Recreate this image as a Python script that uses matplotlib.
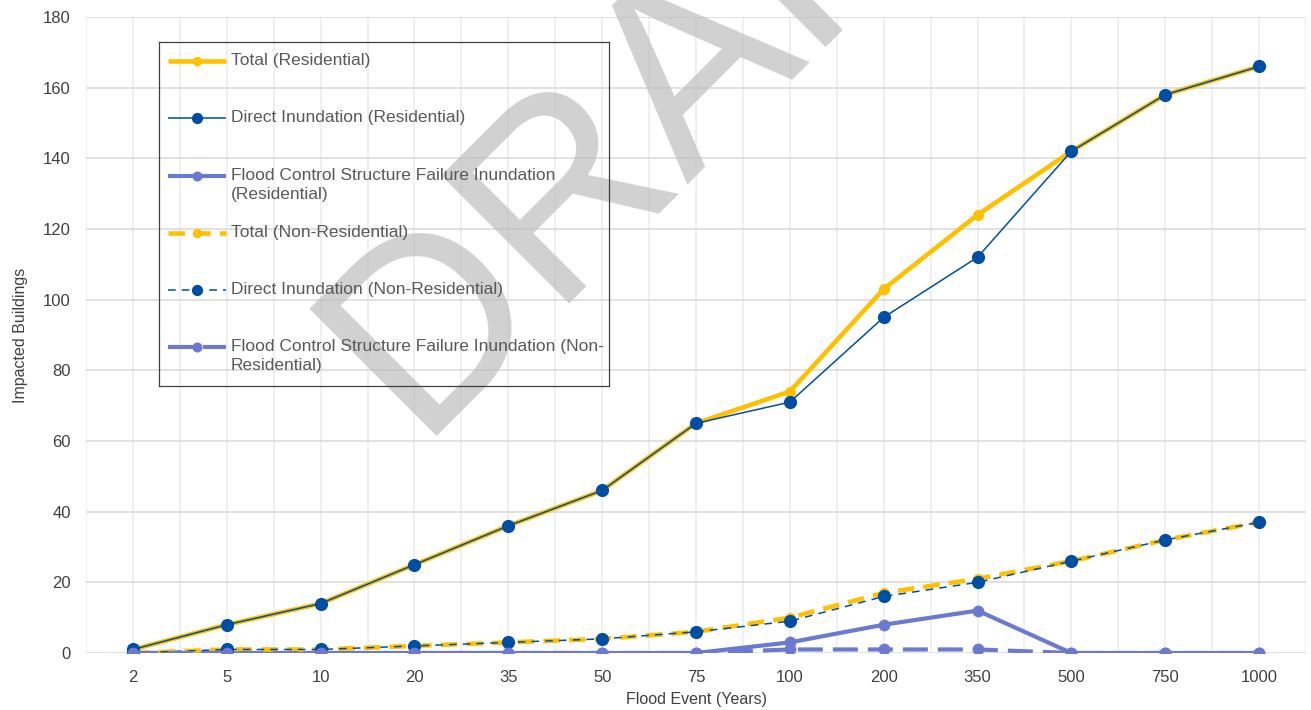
import numpy as np
import matplotlib
matplotlib.use("Agg")
import matplotlib.pyplot as plt

plt.rcParams['font.family'] = ['Liberation Sans', 'DejaVu Sans']

# data
events = ['2', '5', '10', '20', '35', '50', '75', '100', '200', '350', '500', '750', '1000']
total_res = [1, 8, 14, 25, 36, 46, 65, 74, 103, 124, 142, 158, 166]
direct_res = [1, 8, 14, 25, 36, 46, 65, 71, 95, 112, 142, 158, 166]
fcsf_res = [0, 0, 0, 0, 0, 0, 0, 3, 8, 12, 0, 0, 0]
total_nonres = [0, 1, 1, 2, 3, 4, 6, 10, 17, 21, 26, 32, 37]
direct_nonres = [0, 1, 1, 2, 3, 4, 6, 9, 16, 20, 26, 32, 37]
fcsf_nonres = [0, 0, 0, 0, 0, 0, 0, 1, 1, 1, 0, 0, 0]

labels = ['Total (Residential)',
          'Direct Inundation (Residential)',
          'Flood Control Structure Failure Inundation\n(Residential)',
          'Total (Non-Residential)',
          'Direct Inundation (Non-Residential)',
          'Flood Control Structure Failure Inundation (Non-\nResidential)']

YELLOW = '#FFC000'
BLUE = '#004EA2'
PURPLE = '#6B7AD0'

# (values, color, linewidth, dash pattern or None, markersize)
styles = [
    (total_res, YELLOW, 3.3, None, 8),
    (direct_res, BLUE, 1.1, None, 9.5),
    (fcsf_res, PURPLE, 3.0, None, 8.5),
    (total_nonres, YELLOW, 3.3, (3.6, 2.0), 8),
    (direct_nonres, BLUE, 1.1, (5.0, 4.0), 9.5),
    (fcsf_nonres, PURPLE, 3.0, (6.0, 2.4), 8.5),
]

W, H = 1311, 710
fig = plt.figure(figsize=(W / 100, H / 100), dpi=100)
ax = fig.add_axes([86 / W, 1 - 653 / H, 1220 / W, 636 / H])

x = np.arange(len(events))
for vals, col, lw, dash, ms in styles:
    line, = ax.plot(x, vals, color=col, lw=lw, marker='o', ms=ms,
                    markeredgewidth=0, zorder=3, solid_capstyle='butt')
    if dash is not None:
        line.set_dashes(dash)

ax.set_xlim(-0.5, len(events) - 0.5)
ax.set_ylim(0, 180)
ax.set_yticks(np.arange(0, 181, 20))
ax.set_xticks(x)
ax.set_xticklabels(events)
ax.set_xticks(np.arange(-0.5, len(events), 1), minor=True)
ax.grid(axis='y', color='#d9d9d9', lw=1.1, zorder=0)
ax.grid(axis='x', which='both', color='#ececec', lw=1.1, zorder=0)
ax.set_axisbelow(True)
for s in ax.spines.values():
    s.set_visible(False)
ax.tick_params(axis='both', which='both', length=0, labelsize=12, labelcolor='#404040')
ax.tick_params(axis='x', pad=12)
ax.tick_params(axis='y', pad=11)
ax.set_xlabel('Flood Event (Years)', fontsize=11.5, color='#404040', labelpad=5)
ax.set_ylabel('Impacted Buildings', fontsize=11.5, color='#404040', labelpad=11)

# DRAFT watermark
ax.text(415 / W, 1 - 436 / H, 'DRAFT', transform=fig.transFigure, fontsize=188,
        color='#bdbdbd', alpha=0.7, rotation=45, rotation_mode='anchor',
        ha='left', va='baseline', zorder=1.5, clip_on=False)

# legend drawn in pixel coordinates
lx0, ly0, lx1, ly1 = 159, 42, 609, 386
lax = fig.add_axes([lx0 / W, 1 - ly1 / H, (lx1 - lx0) / W, (ly1 - ly0) / H])
lax.set_xlim(lx0, lx1)
lax.set_ylim(ly1, ly0)
lax.patch.set_alpha(0)
lax.set_xticks([])
lax.set_yticks([])
for s in lax.spines.values():
    s.set_color('#404040')
    s.set_linewidth(0.9)

row_y = [61, 118, 176, 233, 290, 347]
for (vals, col, lw, dash, ms), lab, ry in zip(styles, labels, row_y):
    hl, = lax.plot([168, 226], [ry, ry], color=col, lw=lw, solid_capstyle='butt')
    if dash is not None:
        hl.set_dashes(dash)
        hl.set_dash_capstyle('butt')
    lax.plot([197], [ry], 'o', color=col, ms=ms * 0.85, markeredgewidth=0)
    lax.text(231, ry - 8, lab, fontsize=12.5, color='#595959', ha='left', va='top',
             linespacing=1.3)

fig.savefig('out.png', dpi=100)
